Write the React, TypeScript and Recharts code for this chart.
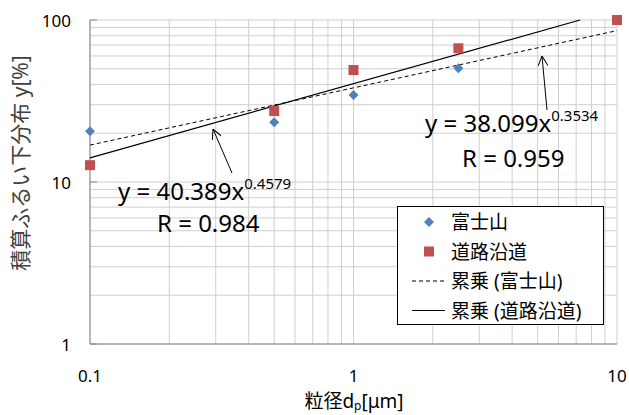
import { ScatterChart, Scatter, XAxis, YAxis, CartesianGrid, Legend } from 'recharts';

// particle size [µm]
const sizes = [0.1, 0.5, 1, 2.5, 10];
const fujiValues = [20.6, 23.4, 34.4, 50.3, 100];
const roadValues = [12.7, 27.4, 49.1, 66.9, 100];

// power trendline end points (from the fitted equations on the chart)
const fujiTrendX = [0.1, 10];
const fujiTrendY = [16.9, 86.0];
const roadTrendX = [0.1, 7.24];
const roadTrendY = [14.1, 100];

const xTicks = [0.1, 0.2, 0.3, 0.4, 0.5, 0.6, 0.7, 0.8, 0.9, 1, 2, 3, 4, 5, 6, 7, 8, 9, 10];
const yTicks = [1, 2, 3, 4, 5, 6, 7, 8, 9, 10, 20, 30, 40, 50, 60, 70, 80, 90, 100];
const xLabels = [0.1, 1, 10];
const yLabels = [1, 10, 100];

const legendNames = ['富士山', '道路沿道', '累乗 (富士山)', '累乗 (道路沿道)'];

const toPoints = (xs: number[], ys: number[]) => xs.map((x, i) => ({ x, y: ys[i] }));

const fujiData = toPoints(sizes, fujiValues);
const roadData = toPoints(sizes, roadValues);
const fujiTrend = toPoints(fujiTrendX, fujiTrendY);
const roadTrend = toPoints(roadTrendX, roadTrendY);

const BLUE = '#4F81BD';
const RED = '#C0504D';
const FONT = "'Noto Sans', 'Noto Sans CJK JP', sans-serif";

const Diamond = (props: any) => {
  const { cx, cy } = props;
  const r = 5;
  return <polygon points={`${cx},${cy - r} ${cx + r},${cy} ${cx},${cy + r} ${cx - r},${cy}`} fill={BLUE} />;
};

const Square = (props: any) => {
  const { cx, cy } = props;
  return <rect x={cx - 5} y={cy - 5} width={10} height={10} fill={RED} />;
};

const NoDot = () => <g />;

const XTick = (props: any) => {
  const { x, y, payload } = props;
  if (!xLabels.includes(payload.value)) return <g />;
  return (
    <text x={x} y={y + 31} textAnchor="middle" dominantBaseline="central" fontSize={17} fontFamily={FONT} fill="#000">
      {payload.value}
    </text>
  );
};

const YTick = (props: any) => {
  const { x, y, payload } = props;
  if (!yLabels.includes(payload.value)) return <g />;
  return (
    <g>
      <line x1={x} x2={x + 7} y1={y} y2={y} stroke="#868686" />
      <text x={x - 19} y={y} textAnchor="end" dominantBaseline="central" fontSize={17} fontFamily={FONT} fill="#000">
        {payload.value}
      </text>
    </g>
  );
};

const LegendBox = () => {
  const rowH = 29.5;
  return (
    <div style={{ width: 207, height: 119, border: '1px solid #000', background: '#fff', boxSizing: 'border-box', position: 'relative' }}>
      <svg width={207} height={119} style={{ position: 'absolute', left: 0, top: 0 }}>
        {legendNames.map((name, i) => {
          const cy = 15 + i * rowH;
          let marker;
          if (i === 0) marker = <polygon points={`31,${cy - 5} 36,${cy} 31,${cy + 5} 26,${cy}`} fill={BLUE} />;
          else if (i === 1) marker = <rect x={26} y={cy - 5} width={10} height={10} fill={RED} />;
          else if (i === 2) marker = <line x1={14} x2={47} y1={cy} y2={cy} stroke="#000" strokeDasharray="4 3" />;
          else marker = <line x1={14} x2={47} y1={cy} y2={cy} stroke="#000" />;
          return (
            <g key={name}>
              {marker}
              <text x={53} y={cy} dominantBaseline="central" fontSize={19} fontFamily={FONT} fill="#000">{name}</text>
            </g>
          );
        })}
      </svg>
    </div>
  );
};

const Annotations = () => (
  <svg width={629} height={415} style={{ position: 'absolute', left: 0, top: 0, pointerEvents: 'none' }}>
    <defs>
      <marker id="arr" viewBox="0 0 10 10" refX="10" refY="5" markerWidth="10" markerHeight="10" orient="auto" markerUnits="userSpaceOnUse">
        <path d="M0,0 L10,5 L0,10" fill="none" stroke="#000" strokeWidth={1} />
      </marker>
    </defs>
    <line x1={232} y1={173} x2={213} y2={129} stroke="#000" markerEnd="url(#arr)" />
    <line x1={547} y1={110} x2={542} y2={56} stroke="#000" markerEnd="url(#arr)" />
    <g fontFamily={FONT} fill="#000">
      <text x={118} y={200} fontSize={24}>
        y = 40.389x<tspan fontSize={15} dy={-11}>0.4579</tspan>
      </text>
      <text x={157} y={232} fontSize={24}>R = 0.984</text>
      <text x={425} y={132} fontSize={24}>
        y = 38.099x<tspan fontSize={15} dy={-11}>0.3534</tspan>
      </text>
      <text x={462} y={167} fontSize={24}>R = 0.959</text>
    </g>
    <text
      transform="translate(20,163) rotate(-90)"
      textAnchor="middle"
      dominantBaseline="central"
      fontSize={21}
      fontFamily={FONT}
      fill="#404040"
    >
      積算ふるい下分布 y[%]
    </text>
    <text x={354} y={401} textAnchor="middle" dominantBaseline="central" fontSize={19} fontFamily={FONT} fill="#000">
      粒径d<tspan fontSize={12} dy={4}>p</tspan><tspan dy={-4}>[μm]</tspan>
    </text>
  </svg>
);

export default function App() {
  return (
    <div style={{ position: 'absolute', left: 0, top: 0, width: 629, height: 415, background: '#fff' }}>
      <ScatterChart width={629} height={415} margin={{ top: 20, right: 12, left: 0, bottom: 0 }}>
        <CartesianGrid stroke="#cfcfcf" />
        <XAxis
          type="number"
          dataKey="x"
          scale="log"
          domain={[0.1, 10]}
          ticks={xTicks}
          interval={0}
          height={71}
          tickSize={0}
          tickMargin={0}
          tickLine={false}
          axisLine={{ stroke: '#868686' }}
          tick={<XTick />}
        />
        <YAxis
          type="number"
          dataKey="y"
          scale="log"
          domain={[1, 100]}
          ticks={yTicks}
          interval={0}
          width={90}
          tickSize={0}
          tickMargin={0}
          tickLine={false}
          axisLine={{ stroke: '#868686' }}
          tick={<YTick />}
        />
        <Legend
          layout="horizontal"
          verticalAlign="middle"
          align="center"
          content={<LegendBox />}
          wrapperStyle={{ position: 'absolute', left: 397, top: 206, width: 207, height: 119 }}
        />
        <Scatter
          name="累乗 (富士山)"
          data={fujiTrend}
          line={{ stroke: '#000', strokeWidth: 1, strokeDasharray: '4 3' }}
          shape={<NoDot />}
          isAnimationActive={false}
        />
        <Scatter
          name="累乗 (道路沿道)"
          data={roadTrend}
          line={{ stroke: '#000', strokeWidth: 1.2 }}
          shape={<NoDot />}
          isAnimationActive={false}
        />
        <Scatter name="富士山" data={fujiData} shape={<Diamond />} isAnimationActive={false} />
        <Scatter name="道路沿道" data={roadData} shape={<Square />} isAnimationActive={false} />
      </ScatterChart>
      <Annotations />
    </div>
  );
}
